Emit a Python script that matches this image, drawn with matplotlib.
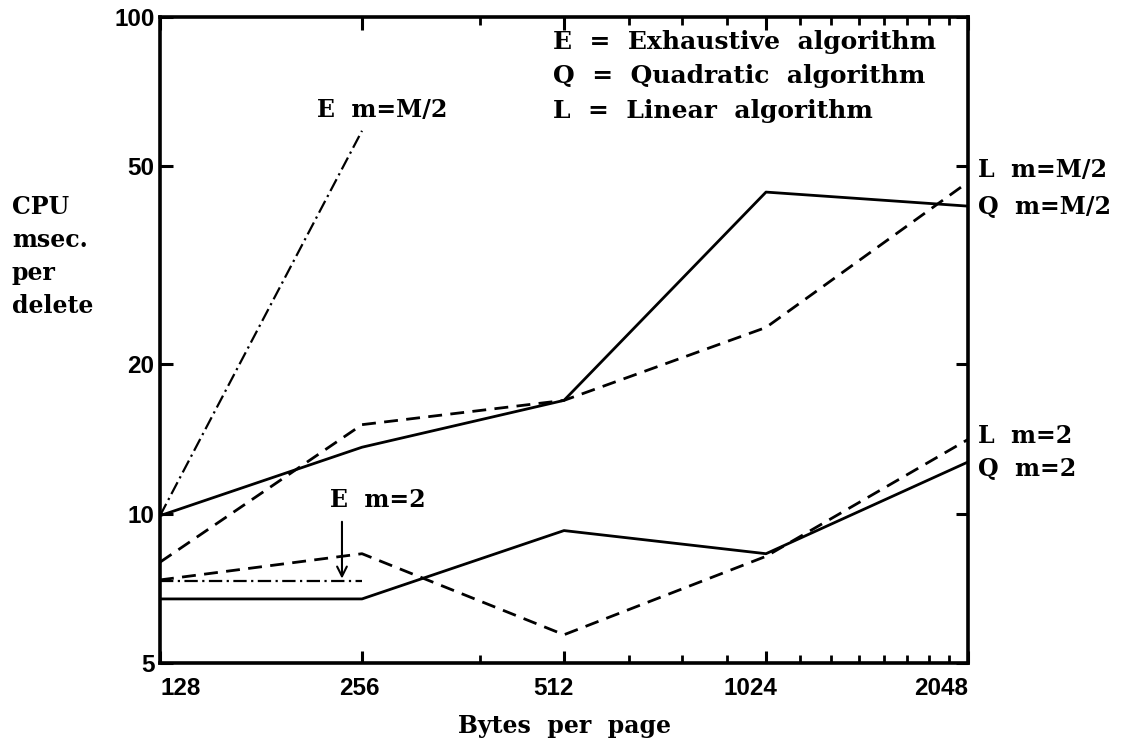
import matplotlib
matplotlib.use("Agg")
import matplotlib.pyplot as plt
import matplotlib.transforms as mtransforms
from matplotlib.ticker import FixedLocator, NullFormatter, NullLocator

# ---- data ----
page_sizes = [128, 256, 512, 1024, 2048]
x_tick_labels = ["128", "256", "512", "1024", "2048"]
y_ticks = [5, 10, 20, 50, 100]
y_tick_labels = ["5", "10", "20", "50", "100"]
minor_x = [384, 640, 768, 896, 1152, 1280, 1408, 1536, 1664, 1792, 1920]

e_half_x = [128, 256]
e_half_y = [9.9, 59.0]
e_two_x = [128, 256]
e_two_y = [7.3, 7.3]
q_half = [9.9, 13.6, 16.9, 44.4, 41.6]
l_half = [7.98, 15.1, 16.9, 23.7, 46.5]
q_two = [6.73, 6.73, 9.24, 8.3, 12.7]
l_two = [7.35, 8.3, 5.7, 8.2, 14.1]

legend_lines = ["E  =  Exhaustive  algorithm", "Q  =  Quadratic  algorithm", "L  =  Linear  algorithm"]

serif = {"family": "DejaVu Serif", "weight": "bold"}
narrow = {"family": ["Liberation Sans Narrow", "Liberation Sans", "DejaVu Sans"], "weight": "bold"}
FS = 17

fig = plt.figure(figsize=(11.34, 7.42), dpi=100)
ax = fig.add_axes([160/1134, 1-663/742, (968-160)/1134, (663-17)/742])
ax.set_xscale("log", base=2)
ax.set_yscale("log")
ax.set_xlim(128, 2048)
ax.set_ylim(5, 100)

lw = 2.0
ax.plot(e_half_x, e_half_y, color="black", lw=1.6, dashes=(6, 2, 1, 2))
ax.plot(e_two_x, e_two_y, color="black", lw=1.6, dashes=(6, 2, 1, 2))
ax.plot(page_sizes, q_half, color="black", lw=lw)
ax.plot(page_sizes, l_half, color="black", lw=lw, dashes=(5, 3))
ax.plot(page_sizes, q_two, color="black", lw=lw)
ax.plot(page_sizes, l_two, color="black", lw=lw, dashes=(5, 3))

# ticks
ax.xaxis.set_major_locator(FixedLocator(page_sizes))
ax.xaxis.set_minor_locator(FixedLocator(minor_x))
ax.xaxis.set_minor_formatter(NullFormatter())
ax.set_xticklabels(x_tick_labels, fontsize=17.5, **narrow)
ax.yaxis.set_major_locator(FixedLocator(y_ticks))
ax.yaxis.set_minor_locator(NullLocator())
ax.set_yticklabels(y_tick_labels, fontsize=17.5, **narrow)
ax.tick_params(axis="both", which="major", direction="in", length=9, width=2.2,
               top=True, right=True)
ax.tick_params(axis="x", which="minor", direction="in", length=6, width=2.0, top=True)
ax.tick_params(axis="x", which="major", pad=10)
ax.tick_params(axis="y", which="major", pad=4)
for s in ax.spines.values():
    s.set_linewidth(2.6)

# adjust x tick label alignment
offsets = [0, -3, -11, -16, 0]
for lab, off in zip(ax.get_xticklabels(), offsets):
    lab.set_transform(lab.get_transform() + mtransforms.ScaledTranslation(off/100, 0, fig.dpi_scale_trans))
xl = ax.get_xticklabels()
xl[0].set_ha("left")
xl[-1].set_ha("right")

# axis labels
ax.set_xlabel("Bytes  per  page", fontsize=FS, labelpad=10, **serif)
fig.text(12/1134, 1-195/742, "CPU\nmsec.\nper\ndelete", fontsize=FS, va="top", ha="left",
         linespacing=1.47, **serif)

# legend text
for i, t in enumerate(legend_lines):
    ax.text(0.487, 0.962 - i*0.054, t, transform=ax.transAxes, fontsize=18,
            va="center", ha="left", **serif)

# curve labels
ax.text(274, 65, "E  m=M/2", fontsize=FS, ha="center", va="center", **serif)
ax.text(270, 10.65, "E  m=2", fontsize=FS, ha="center", va="center", **serif)
ax.annotate("", xy=(239, 7.3), xytext=(239, 9.75),
            arrowprops=dict(arrowstyle="->,head_length=0.7,head_width=0.35", lw=1.5, color="black"))

trans = mtransforms.blended_transform_factory(ax.transAxes, ax.transData)
for t, yv in [("L  m=M/2", 49.3), ("Q  m=M/2", 41.4), ("L  m=2", 14.3), ("Q  m=2", 12.3)]:
    ax.text(1.012, yv, t, transform=trans, fontsize=FS, ha="left", va="center",
            clip_on=False, **serif)

fig.savefig("out.png", dpi=100)
